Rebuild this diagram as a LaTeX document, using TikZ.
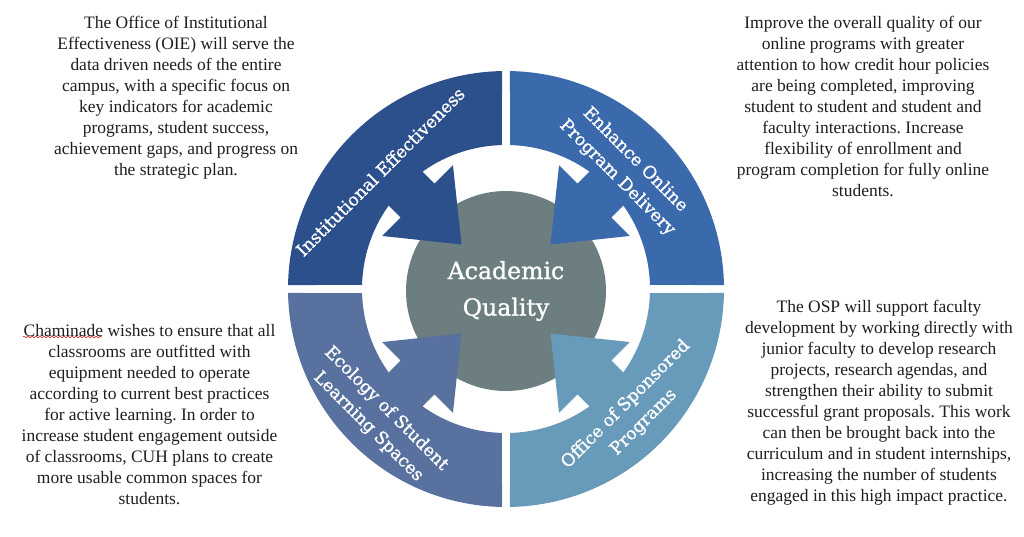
\documentclass[tikz,border=0pt]{standalone}
\usepackage{fontspec}
\setmainfont{Liberation Serif}
\newfontfamily\labelfont[FakeBold=1]{DejaVu Serif}
\usetikzlibrary{decorations.pathmorphing}
\frenchspacing

\definecolor{oieblue}{RGB}{44,80,140}
\definecolor{onlineblue}{RGB}{58,105,172}
\definecolor{ecoblue}{RGB}{89,113,159}
\definecolor{ospblue}{RGB}{104,154,185}
\definecolor{coregray}{RGB}{108,126,128}
\definecolor{bodytext}{RGB}{30,30,30}

\begin{document}
\begin{tikzpicture}[x=0.75pt,y=0.75pt,font=\fontsize{13.1}{15.75}\selectfont,
    blurb/.style={align=center,inner sep=0pt,text=bodytext},
    ringlabel/.style={align=center,inner sep=0pt,text=white,
        font=\labelfont\fontsize{13}{19}\selectfont},
    core/.style={circle,fill=coregray,minimum size=150pt,inner sep=0pt,
        align=center,text=white,font=\labelfont\fontsize{17.7}{27.5}\selectfont}]
        \def\rout{218}
        \def\rin{144}

        \useasboundingbox (-506,-247) rectangle (518,289);

        % Quadrant macro:
        % #1 = middle angle of the quadrant
        % #2 = fill colour
        \newcommand{\ringquad}[2]{%
            % ring piece, small gap to the neighbours
            \fill[#2] ({#1-45+1.05}:\rout)
                arc[start angle=#1-45+1.05, end angle=#1+45-1.05, radius=\rout]
                -- ({#1+45-1.6}:\rin)
                arc[start angle=#1+45-1.6, end angle=#1-45+1.6, radius=\rin] -- cycle;
            % arrow into the centre
            \fill[#2,rotate=#1] (63,0) -- (125,50) -- (125,24) -- (150,24)
                -- (150,-24) -- (125,-24) -- (125,-50) -- cycle;
        }

        % centre disc
        \node[core] (core) at (0,-2) {Academic\\Quality};

        % ring
        \ringquad{135}{oieblue}
        \ringquad{45}{onlineblue}
        \ringquad{225}{ecoblue}
        \ringquad{315}{ospblue}

        % ring labels
        \node[ringlabel,rotate=45] (oie) at (137:172) {Institutional Effectiveness};
        \node[ringlabel,rotate=-45] (online) at (45:170) {Enhance Online\\Program Delivery};
        \node[ringlabel,rotate=-45] (ecology) at (225:182) {Ecology of Student\\Learning Spaces};
        \node[ringlabel,rotate=45] (osp) at (-44:179) {Office of Sponsored\\Programs};

        % side texts
        \node[blurb] (oietext) at (-330,191) {The Office of Institutional\\
            Effectiveness (OIE) will serve the\\data driven needs of the entire\\
            campus, with a specific focus on\\key indicators for academic\\
            programs, student success,\\achievement gaps, and progress on\\
            the strategic plan.};
        \node[blurb] (onlinetext) at (357,183) {Improve the overall quality of our\\
            online programs with greater\\attention to how credit hour policies\\
            are being completed, improving\\student to student and student and\\
            faculty interactions. Increase\\flexibility of enrollment and\\
            program completion for fully online\\students.};
        \node[blurb] (ecologytext) at (-356.5,-125.5) {Chaminade wishes to ensure that all\\
            classrooms are outfitted with\\equipment needed to operate\\
            according to current best practices\\for active learning. In order to\\
            increase student engagement outside\\of classrooms, CUH plans to create\\
            more usable common spaces for\\students.};
        \node[blurb] (osptext) at (373,-114) {The OSP will support faculty\\
            development by working directly with\\junior faculty to develop research\\
            projects, research agendas, and\\strengthen their ability to submit\\
            successful grant proposals. This work\\can then be brought back into the\\
            curriculum and in student internships,\\increasing the number of students\\
            engaged in this high impact practice.};

        % spell-check mark under Chaminade
        \draw[red!80!black,decorate,decoration={snake,amplitude=0.6pt,segment length=3pt}]
            (-483,-48) -- (-404,-48);
\end{tikzpicture}
\end{document}
